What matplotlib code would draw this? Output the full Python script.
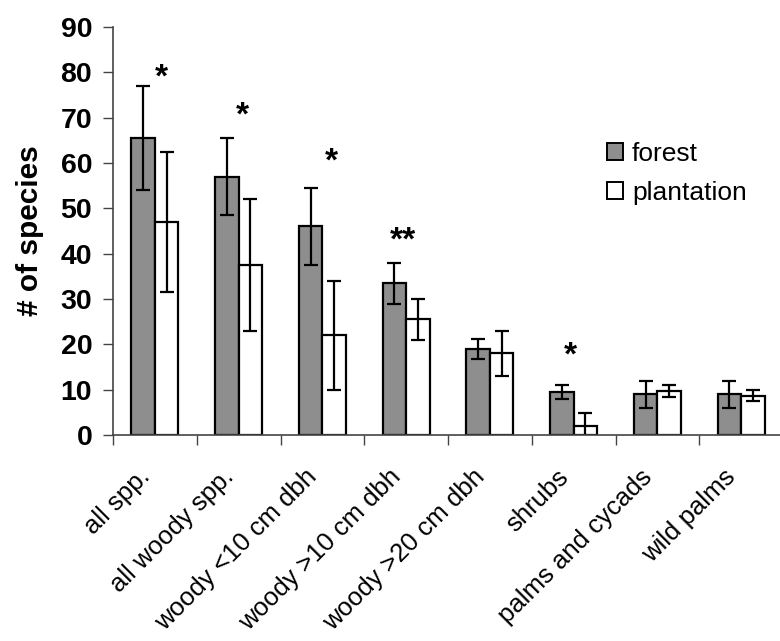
import matplotlib.pyplot as plt
import numpy as np
from matplotlib.patches import Patch
from matplotlib.transforms import ScaledTranslation

plt.rcParams['font.family'] = ['Liberation Sans', 'DejaVu Sans']

categories = ['all spp.', 'all woody spp.', 'woody <10 cm dbh', 'woody >10 cm dbh',
              'woody >20 cm dbh', 'shrubs', 'palms and cycads', 'wild palms']
forest = [65.5, 57, 46, 33.5, 19, 9.5, 9, 9]
forest_err = [11.5, 8.5, 8.5, 4.5, 2.2, 1.5, 3, 3]
plantation = [47, 37.5, 22, 25.5, 18, 2, 9.7, 8.7]
plantation_err = [15.5, 14.5, 12, 4.5, 5, 2.8, 1.3, 1.2]

# significance marks: (x, y, text)
sig_x = [0.08, 1.04, 2.11, 2.96, 4.96]
sig_y = [80, 71.7, 61.5, 44, 18.7]
sig_txt = ['*', '*', '*', '**', '*']

fig = plt.figure(figsize=(7.8, 6.41), dpi=100)
ax = fig.add_axes([113/780, 1-435/641, 670/780, 408/641])

x = np.arange(len(categories))
w = 0.28
ekw = dict(ecolor='black', elinewidth=1.6, capsize=5, capthick=1.6)
ax.bar(x - w/2, forest, w, yerr=forest_err, color='#8e8e8e', edgecolor='black',
       linewidth=1.6, error_kw=ekw, label='forest')
ax.bar(x + w/2, plantation, w, yerr=plantation_err, color='white', edgecolor='black',
       linewidth=1.6, error_kw=ekw, label='plantation')

# the asterisk glyph sits high in its box, so nudge the text down a little
star_off = ScaledTranslation(0, -6/100, fig.dpi_scale_trans)
for sx, sy, st in zip(sig_x, sig_y, sig_txt):
    ax.text(sx, sy, st, ha='center', va='center', fontsize=24, fontweight='bold',
            transform=ax.transData + star_off)

ax.set_xlim(-0.5, len(categories) - 0.5)
ax.set_ylim(0, 90)
ax.set_yticks(np.arange(0, 91, 10))
for t in ax.get_yticklabels():
    t.set_fontweight('bold')
ax.tick_params(axis='y', direction='out', length=7, width=1, labelsize=20.5, pad=8,
               color='#444444')

# category labels at centres, tick marks at category boundaries
ax.set_xticks(x)
ax.set_xticklabels(categories, rotation=45, ha='right', va='baseline',
                   rotation_mode='anchor', fontsize=18.5)
ax.tick_params(axis='x', which='major', length=0, pad=31)
shift = ScaledTranslation(-4/100, 0, fig.dpi_scale_trans)
for lab in ax.get_xticklabels():
    lab.set_transform(lab.get_transform() + shift)
ax.set_xticks(np.arange(-0.5, len(categories)), minor=True)
ax.tick_params(axis='x', which='minor', direction='out', length=7, width=1,
               color='#444444')

for s in ['top', 'right']:
    ax.spines[s].set_visible(False)
ax.spines['left'].set_color('#444444')
ax.spines['bottom'].set_color('#444444')
ax.spines['left'].set_linewidth(1.2)
ax.spines['bottom'].set_linewidth(1.2)

fig.text(30/780, 1-231/641, '# of species', rotation=90, ha='center', va='center',
         fontsize=21.5, fontweight='bold')

handles = [Patch(facecolor='#8e8e8e', edgecolor='black', linewidth=1.4),
           Patch(facecolor='white', edgecolor='black', linewidth=1.4)]
fig.legend(handles, ['forest', 'plantation'], loc='upper left',
           bbox_to_anchor=(607/780, 1-142/641), frameon=False, fontsize=19,
           handlelength=0.6, handleheight=0.6, handletextpad=0.35, labelspacing=0.55,
           borderpad=0, borderaxespad=0)

fig.savefig('out.png', dpi=100)
